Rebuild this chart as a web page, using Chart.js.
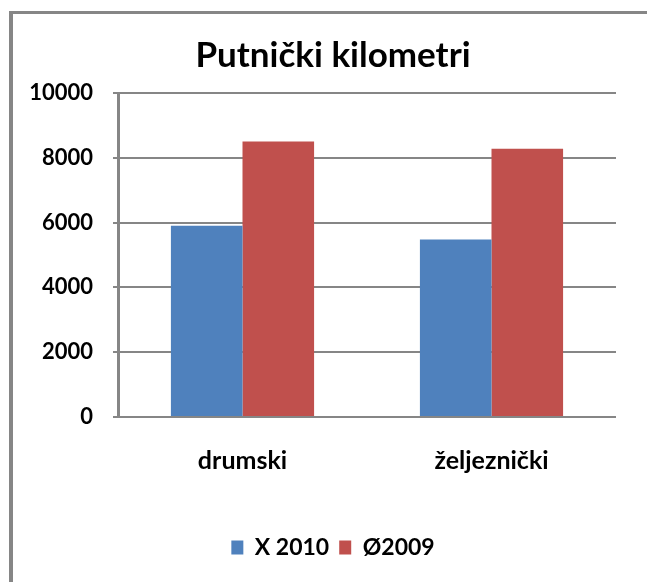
<!DOCTYPE html>
<html>
<head>
<meta charset="utf-8">
<script src="https://cdn.jsdelivr.net/npm/chart.js@4/dist/chart.umd.min.js"></script>
<style>
  html, body { margin: 0; padding: 0; background: #fff; overflow: hidden; }
  #frame { position: absolute; left: 9px; top: 11px; width: 700px; height: 600px;
           border-left: 4px solid #868686; border-top: 3px solid #868686; box-sizing: border-box; }
  #wrap { position: absolute; left: 0; top: 0; width: 647px; height: 582px; }
</style>
</head>
<body>
<div id="frame"></div>
<div id="wrap"><canvas id="c" width="647" height="582"></canvas></div>
<script>
const categories = ["drumski", "željeznički"];
const seriesNames = ["X 2010", "Ø2009"];
const values2010 = [5900, 5480];
const values2009 = [8500, 8280];
const yTicks = [0, 2000, 4000, 6000, 8000, 10000];

const FONT = "Lato, 'Open Sans', sans-serif";

// Centre title and legend on the same band as in the reference (x 50..616)
const recentre = {
  id: 'recentre',
  afterLayout(chart) {
    if (chart.titleBlock) { chart.titleBlock.left = 50; chart.titleBlock.right = 616; }
    if (chart.legend) { chart.legend.left = 50; chart.legend.right = 616; }
  }
};

new Chart(document.getElementById('c'), {
  type: 'bar',
  data: {
    labels: categories,
    datasets: [
      { label: seriesNames[0], data: values2010, backgroundColor: '#4F81BD', borderWidth: 0 },
      { label: seriesNames[1], data: values2009, backgroundColor: '#C0504D', borderWidth: 0 }
    ]
  },
  plugins: [recentre],
  options: {
    responsive: false,
    animation: false,
    devicePixelRatio: 1,
    layout: { padding: { left: 0, right: 31, top: 10, bottom: 13 } },
    datasets: { bar: { categoryPercentage: 0.575, barPercentage: 1.0 } },
    plugins: {
      title: {
        display: true,
        text: 'Putnički kilometri',
        color: '#000',
        font: { family: FONT, size: 35, weight: 'bold', lineHeight: 1.2 },
        padding: { top: 25, bottom: 16 }
      },
      legend: {
        position: 'bottom',
        labels: {
          color: '#000',
          font: { family: FONT, size: 23, weight: 'bold' },
          boxWidth: 12, boxHeight: 14, padding: 10
        }
      },
      tooltip: { enabled: false }
    },
    scales: {
      x: {
        grid: { display: false, drawTicks: false },
        border: { display: false },
        ticks: { color: '#000', font: { family: FONT, size: 25, weight: 'bold' }, padding: 29 },
        afterFit: (s) => { s.height = 109; }
      },
      y: {
        min: 0, max: 10000,
        afterBuildTicks: (s) => { s.ticks = yTicks.map(v => ({ value: v })); },
        grid: { color: '#868686', lineWidth: 2, tickLength: 5, drawTicks: true },
        border: { color: '#868686', width: 3 },
        ticks: {
          color: '#000',
          font: { family: FONT, size: 22, weight: 'bold' },
          padding: 20,
          callback: (v) => String(v)
        },
        afterFit: (s) => { s.width = 118; }
      }
    }
  }
});
</script>
</body>
</html>
